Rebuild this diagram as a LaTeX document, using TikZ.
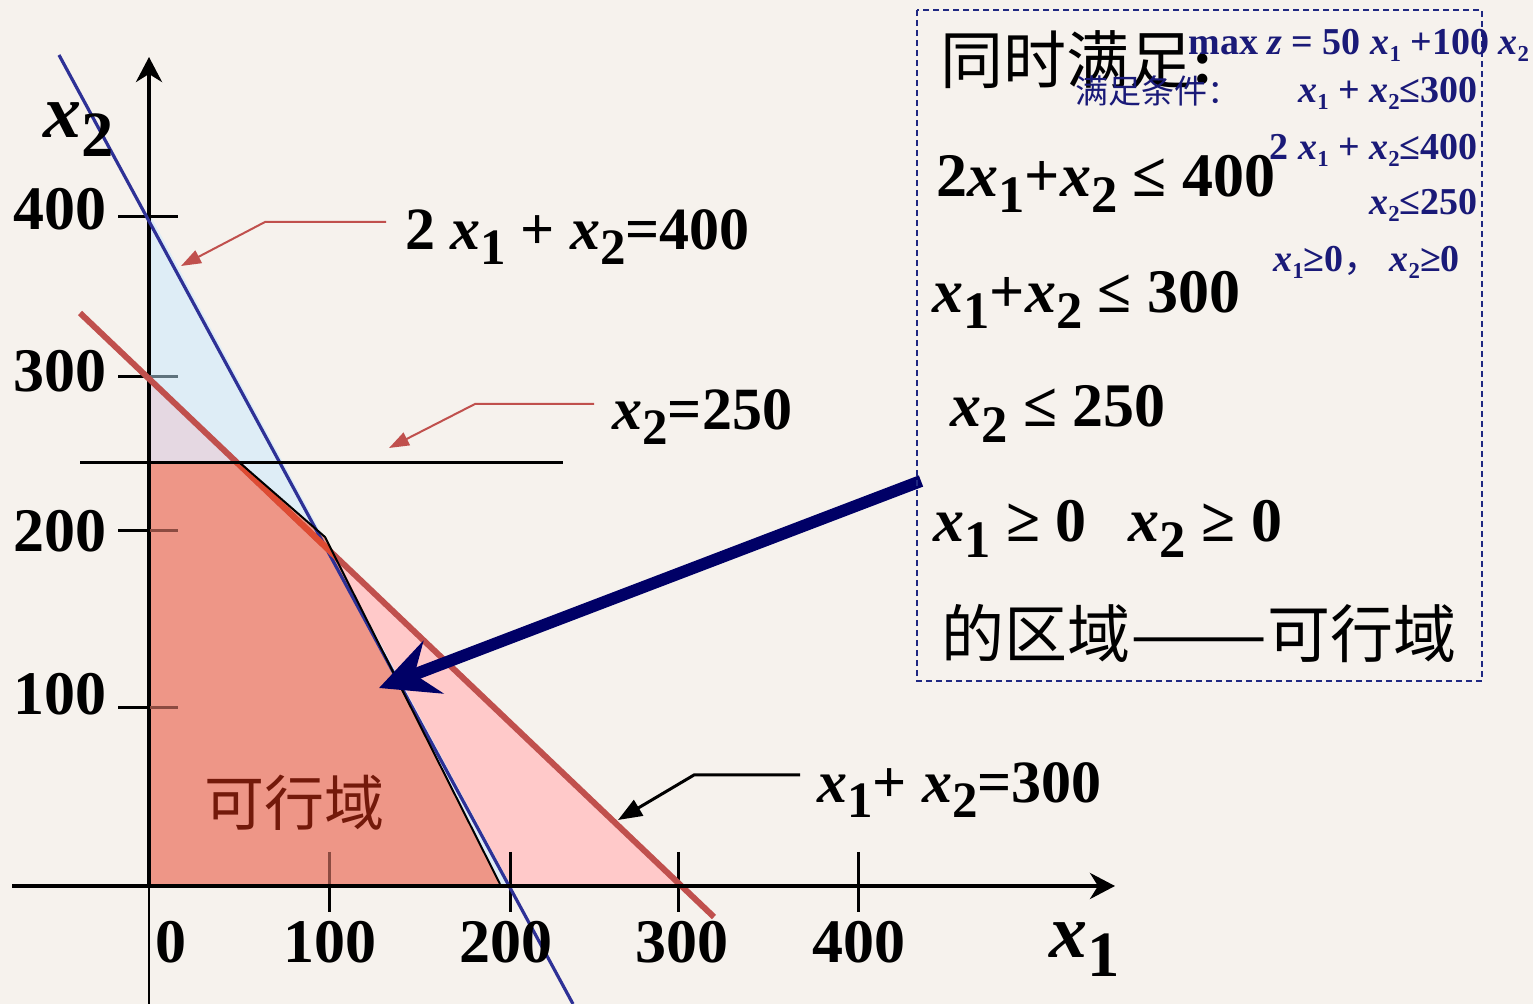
\documentclass[tikz,border=0pt]{standalone}
\usepackage{fontspec}
\setmainfont{Liberation Serif}
\newfontfamily\cjk{Noto Sans CJK SC}
\usetikzlibrary{arrows.meta}
\definecolor{bg}{RGB}{246,242,237}
\definecolor{salmonf}{RGB}{238,150,135}
\definecolor{pinkf}{RGB}{255,201,201}
\definecolor{bluef}{RGB}{222,237,246}
\definecolor{lavf}{RGB}{229,216,226}
\definecolor{redl}{RGB}{192,80,77}
\definecolor{redin}{RGB}{222,75,50}
\definecolor{bluel}{RGB}{46,49,150}
\definecolor{navy}{RGB}{0,0,102}
\definecolor{navyt}{RGB}{26,26,120}
\definecolor{boxc}{RGB}{31,40,130}
\definecolor{darkred}{RGB}{115,25,10}
\definecolor{tickbrown}{RGB}{140,75,65}
\definecolor{tickblue}{RGB}{95,115,125}
\newcommand\bx{\textit{x}}
\newcommand\bsub[1]{\raisebox{-0.25em}{\scalebox{0.85}{#1}}}
\newcommand\ssub[1]{\raisebox{-0.18em}{\scalebox{0.6}{#1}}}
\begin{document}
\begin{tikzpicture}[x=0.5pt,y=-0.5pt,
  lab/.style={inner sep=0pt, anchor=base west, font=\fontsize{30}{30}\selectfont\bfseries},
  ticklab/.style={inner sep=0pt, font=\fontsize{31}{31}\selectfont\bfseries},
  axlab/.style={inner sep=0pt, anchor=base west, font=\fontsize{38}{38}\selectfont\bfseries},
  boxeq/.style={inner sep=0pt, anchor=base west, font=\fontsize{31}{31}\selectfont\bfseries},
  boxcjk/.style={inner sep=0pt, anchor=west, font=\fontsize{31.5}{31.5}\selectfont\cjk},
  navytxt/.style={inner sep=0pt, text=navyt, font=\fontsize{19}{19}\selectfont\bfseries},
  tickline/.style={line width=1.5pt},
  axisline/.style={line width=2pt, -{Stealth[length=12.5pt,width=13pt,inset=4pt]}},
  annred/.style={redl, line width=1pt, -{Triangle[length=10pt,width=7pt]}},
  annblack/.style={black, line width=1.5pt, -{Triangle[length=12pt,width=9pt]}},
  bigarrow/.style={navy, line width=6pt, -{Stealth[length=29pt,width=28pt,inset=10pt]}},
  boxdash/.style={boxc, line width=0.8pt, dash pattern=on 3pt off 2pt}
]
\useasboundingbox (0,0) rectangle (1533,1004);
\fill[bg] (0,0) rectangle (1533,1004);

% axis coordinates
\coordinate (yb) at (149,1004);
\coordinate (O) at (149,886);
\coordinate (ytip) at (149,57);
\coordinate (xl) at (12,886);
\coordinate (xtip) at (1115,886);

% y axis (drawn under the fills)
\draw[line width=1.2pt] (yb) -- (O);
\draw[axisline] (O) -- (ytip);

% fills
\fill[pinkf] (151,380) -- (678,884) -- (151,884) -- cycle;
\fill[bluef] (151,217) -- (510,884) -- (151,884) -- cycle;
\fill[lavf] (151,380) -- (237,463) -- (151,463) -- cycle;
\fill[salmonf] (151,463) -- (240,463) -- (325,537) -- (500,884) -- (151,884) -- cycle;

% ticks
\draw[tickline] (118,217) -- (178,217);
\draw[tickline] (118,377) -- (150,377);
\draw[tickline, tickblue] (150,377) -- (178,377);
\draw[tickline] (118,531) -- (150,531);
\draw[tickline, tickbrown] (150,531) -- (178,531);
\draw[tickline] (118,708) -- (150,708);
\draw[tickline, tickbrown] (150,708) -- (178,708);
\draw[tickline, tickbrown] (329,852) -- (329,884);
\draw[tickline] (329,884) -- (329,912);
\draw[tickline] (510,852) -- (510,912);
\draw[tickline] (678,852) -- (678,912);
\draw[tickline] (858,852) -- (858,912);

% constraint lines
\coordinate (bl1) at (59,55);
\coordinate (bl2) at (573,1004);
\coordinate (rl1) at (80,313);
\coordinate (rl2) at (714,917);
\coordinate (hl1) at (80,463);
\coordinate (hl2) at (563,463);
\draw[bluel, line width=1.6pt] (bl1) -- (bl2);
\draw[redl, line width=3pt] (rl1) -- (rl2);
\begin{scope}
  \clip (151,463) -- (240,463) -- (325,537) -- (500,884) -- (151,884) -- cycle;
  \draw[redin, line width=3pt] (rl1) -- (rl2);
\end{scope}
\coordinate (f1) at (240,463);
\coordinate (f2) at (325,537);
\coordinate (f3) at (500,884);
\draw[black, line width=1pt] (f1) -- (f2) -- (f3);
\draw[line width=1.5pt] (hl1) -- (hl2);

% x axis
\draw[axisline] (xl) -- (xtip);

% big navy arrow
\coordinate (nvs) at (921,481);
\coordinate (nvt) at (379,688);
\draw[bigarrow] (nvs) -- (nvt);

% annotation arrows
\coordinate (a1s) at (386,222);
\coordinate (a1m) at (265,222);
\coordinate (a1t) at (181,266);
\draw[annred] (a1s) -- (a1m) -- (a1t);
\coordinate (a2s) at (594,404);
\coordinate (a2m) at (475,404);
\coordinate (a2t) at (389,448);
\draw[annred] (a2s) -- (a2m) -- (a2t);
\coordinate (a3s) at (800,775);
\coordinate (a3m) at (694,775);
\coordinate (a3t) at (618,820);
\draw[annblack] (a3s) -- (a3m) -- (a3t);

% line labels
\node[lab] (l400) at (405,250) {2 \bx\bsub{1} + \bx\bsub{2}=400};
\node[lab] (l250) at (612,430) {\bx\bsub{2}=250};
\node[lab] (l300) at (817,803) {\bx\bsub{1}+ \bx\bsub{2}=300};

% axis labels
\node[axlab] (xtwo) at (43,138) {\bx\bsub{2}};
\node[axlab] (xone) at (1049,958) {\bx\bsub{1}};

% tick labels
\node[ticklab, anchor=base east] (t400) at (107,230) {400};
\node[ticklab, anchor=base east] (t300) at (107,392) {300};
\node[ticklab, anchor=base east] (t200) at (107,552) {200};
\node[ticklab, anchor=base east] (t100) at (107,715) {100};
\node[ticklab, anchor=base] (s0) at (171,963) {0};
\node[ticklab, anchor=base] (s100) at (330,963) {100};
\node[ticklab, anchor=base] (s200) at (506,963) {200};
\node[ticklab, anchor=base] (s300) at (682,963) {300};
\node[ticklab, anchor=base] (s400) at (859,963) {400};

% feasible region label
\node[inner sep=0pt, anchor=west, text=darkred, font=\fontsize{30}{30}\selectfont\cjk] (kxy) at (204,803) {可行域};

% dashed box
\draw[boxdash] (917,10) rectangle (1482,681);

% box contents
\node[boxcjk] (tsm) at (940,60) {同时满足\textbf{\fontspec{Liberation Serif}:}};
\node[boxeq] (e1) at (936,197) {2\bx\bsub{1}+\bx\bsub{2} ≤ 400};
\node[boxeq] (e2) at (932,313) {\bx\bsub{1}+\bx\bsub{2} ≤ 300};
\node[boxeq] (e3) at (950,427) {\bx\bsub{2} ≤ 250};
\node[boxeq] (e4) at (933,542) {\bx\bsub{1} ≥ 0\hspace{21pt}\bx\bsub{2} ≥ 0};
\node[boxcjk] (e5) at (941,634) {的区域\scalebox{1.3}[1]{——}可行域};

% navy model text
\node[navytxt, anchor=base west] (m0) at (1188,55) {max \textit{z} = 50 \bx\ssub{1} +100 \bx\ssub{2}};
\node[inner sep=0pt, anchor=base west, text=navyt, font=\fontsize{16.5}{16.5}\selectfont\cjk] (m1) at (1075,104) {满足条件：};
\node[navytxt, anchor=base east] (m2) at (1478,103) {\bx\ssub{1} + \bx\ssub{2}≤300};
\node[navytxt, anchor=base east] (m3) at (1478,160) {2 \bx\ssub{1} + \bx\ssub{2}≤400};
\node[navytxt, anchor=base east] (m4) at (1478,215) {\bx\ssub{2}≤250};
\node[navytxt, anchor=base west] (m5) at (1273,272) {\bx\ssub{1}≥0{\mdseries\cjk ，}\hspace{4pt}\bx\ssub{2}≥0};
\end{tikzpicture}
\end{document}
